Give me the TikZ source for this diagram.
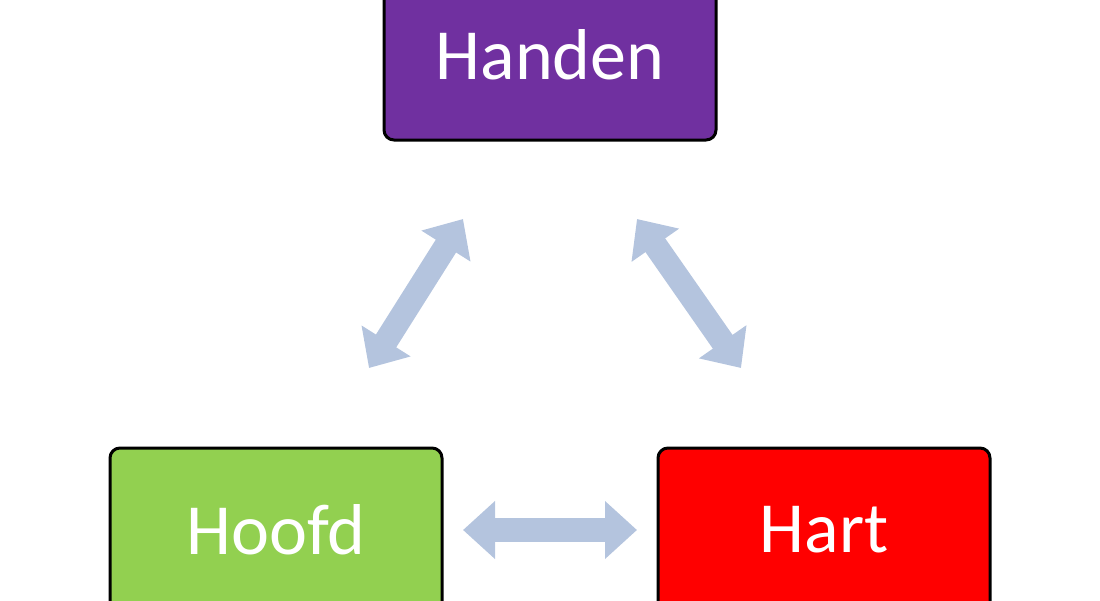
\documentclass[tikz,border=0pt]{standalone}
\usepackage{fontspec}
\setmainfont{Carlito}
\usetikzlibrary{arrows.meta}
\definecolor{arr}{HTML}{B4C4DE}
\definecolor{purp}{HTML}{7030A0}
\definecolor{grn}{HTML}{92D050}
\tikzset{
  box/.style={draw=black,line width=3pt,rounded corners=10pt,minimum width=332pt,minimum height=170pt,text=white,font=\fontsize{72}{80}\selectfont,inner sep=0pt},
  barr/.style={draw=arr,line width=24pt,{Triangle[width=56pt,length=32pt]}-{Triangle[width=56pt,length=32pt]}}
}
\begin{document}
\begin{tikzpicture}[x=1pt,y=-1pt]
\useasboundingbox (0,0) rectangle (1100,600);
\clip (0,0) rectangle (1100,600);
\node[box,fill=purp] (handen) at (550,55) {};
\node[text=white,font=\fontsize{72}{80}\selectfont] (th) at (550,55) {Handen};
\node[box,fill=grn] (hoofd) at (276,533) {};
\node[text=white,font=\fontsize{72}{80}\selectfont] (tho) at (276,530) {Hoofd};
\node[box,fill=red] (hart) at (824,533) {};
\node[text=white,font=\fontsize{72}{80}\selectfont] (tha) at (824,530) {Hart};
\coordinate (a1) at (369,368); \coordinate (a2) at (463,219);
\coordinate (b1) at (637,219); \coordinate (b2) at (741,368);
\coordinate (c1) at (463,530); \coordinate (c2) at (637,530);
\draw[barr] (a1) -- (a2);
\draw[barr] (b1) -- (b2);
\draw[barr] (c1) -- (c2);
\end{tikzpicture}
\end{document}
